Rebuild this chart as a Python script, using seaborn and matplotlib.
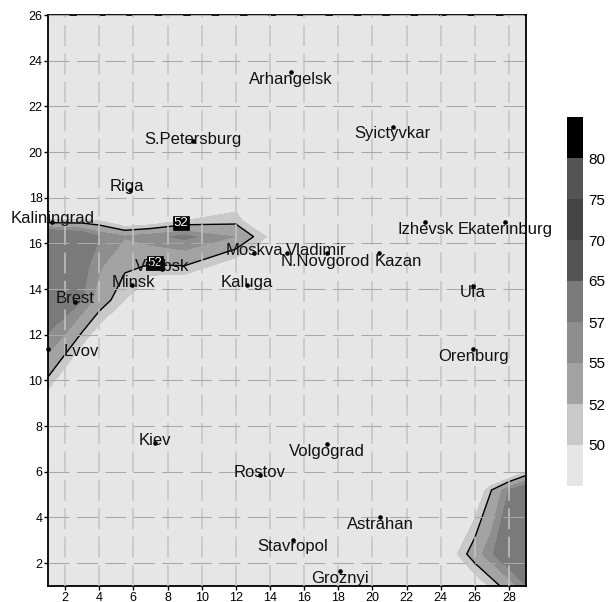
import matplotlib
matplotlib.use('Agg')
import matplotlib.pyplot as plt
from matplotlib.colors import ListedColormap, BoundaryNorm
import numpy as np
import pandas as pd
import seaborn as sns

# contour field, rows (nodes are not evenly spaced)
grid_x = [1, 3, 4, 5.5, 7, 9, 12, 13, 14.5, 16, 24, 25, 26, 27, 28, 29]
grid_y = [1, 2.4, 5.2, 6, 8, 10.74, 13.52, 15, 16.3, 17, 17.5, 26]
row_1 = [44, 44, 44, 44, 44, 44, 44, 44, 44, 44, 44, 44, 47.7, 50.6, 53.5, 57]
row_2 = [44, 44, 44, 44, 44, 44, 44, 44, 44, 44, 44, 50.1, 53.7, 56.7, 60, 63]
row_3 = [44, 44, 44, 44, 44, 44, 44, 44, 44, 44, 44, 44, 47, 52.1, 57.1, 60]
row_4 = [44, 44, 44, 44, 44, 44, 44, 44, 44, 44, 44, 44, 44, 44, 46, 50]
row_5 = [44.3, 44, 44, 44, 44, 44, 44, 44, 44, 44, 44, 44, 44, 44, 44, 44]
row_6 = [54.1, 47, 44, 44, 44, 44, 44, 44, 44, 44, 44, 44, 44, 44, 44, 44]
row_7 = [60, 57.1, 53.7, 50, 45, 44, 44, 44, 44, 44, 44, 44, 44, 44, 44, 44]
row_8 = [62, 58, 55.4, 52.5, 51.8, 51.9, 48, 47, 44, 44, 44, 44, 44, 44, 44, 44]
row_9 = [62, 60, 57.1, 55.2, 56.3, 57.6, 54.9, 52.1, 48.2, 45, 45, 45, 45, 45, 45, 45]
row_10 = [50.5, 50.5, 50, 47, 47.7, 50, 51.2, 48.1, 45, 45, 45, 45, 45, 45, 45, 45]
row_11 = [46, 46, 46, 46, 46, 47, 49.6, 46, 45, 45, 45, 45, 45, 45, 45, 45]
row_12 = [46, 46, 46, 46, 46, 46, 46, 46, 46, 46, 46, 46, 46, 46, 46, 46]

levels = [50, 52, 55, 57, 65, 70, 75, 80]
grays = ['#e6e6e6', '#c9c9c9', '#a3a3a3', '#8e8e8e', '#7a7a7a', '#555555', '#444444', '#555555', '#000000']

# cities: dot position
city = ['Arhangelsk', 'S.Petersburg', 'Syictyvkar', 'Riga', 'Kaliningrad', 'Moskva', 'Vladimir', 'N.Novgorod',
        'Kazan', 'Izhevsk', 'Ekaterinburg', 'Ufa', 'Orenburg', 'Vitebsk', 'Minsk', 'Kaluga', 'Brest', 'Lvov',
        'Kiev', 'Volgograd', 'Rostov', 'Astrahan', 'Stavropol', 'Groznyi']
lon = [15.24, 9.49, 21.2, 5.8, 1.23, 13.07, 15.0, 17.34, 20.39, 23.09, 27.77, 25.9, 25.9, 7.68, 5.92, 12.66,
       2.58, 1.0, 7.27, 17.34, 13.42, 20.45, 15.35, 18.1]
lat = [23.5, 20.48, 21.1, 18.34, 16.94, 15.58, 15.58, 15.58, 15.58, 16.94, 16.94, 14.13, 11.38, 14.88, 14.18,
       14.18, 13.43, 11.38, 7.26, 7.22, 5.86, 4.02, 3.01, 1.66]
# where the name sits
lab_x = [15.24, 9.49, 21.2, 5.63, 1.29, 13.1, 16.73, 17.23, 21.5, 23.15, 27.77, 25.9, 25.9, 7.68, 5.98, 12.66,
         2.58, 2.94, 7.27, 17.34, 13.42, 20.45, 15.35, 18.1]
lab_y = [23.24, 20.62, 20.88, 18.56, 17.16, 15.75, 15.75, 15.27, 15.27, 16.67, 16.67, 13.91, 11.12, 15.06,
         14.36, 14.36, 13.65, 11.34, 7.44, 6.96, 6.03, 3.76, 2.78, 1.4]

# labels on the 52 contour
cl_x = [8.79, 7.27]
cl_y = [16.94, 15.19]

sns.set_theme(style='ticks', rc={'xtick.labelsize': 9, 'ytick.labelsize': 9,
                                 'axes.linewidth': 1.3, 'axes.edgecolor': 'black',
                                 'xtick.color': 'black', 'ytick.color': 'black'})
plt.rcParams['font.family'] = ['Liberation Sans', 'DejaVu Sans']

W, H = 609, 602
fig = plt.figure(figsize=(W / 100, H / 100), dpi=100)
ax = fig.add_axes([48 / W, 16 / H, 478 / W, 571 / H])
cax = fig.add_axes([567 / W, 116 / H, 16 / W, 369 / H])

Z = np.array([row_1, row_2, row_3, row_4, row_5, row_6, row_7, row_8, row_9, row_10, row_11, row_12])
cmap = ListedColormap(grays)
norm = BoundaryNorm(levels, 9, extend='both')
filled = ax.contourf(grid_x, grid_y, Z, levels=levels, cmap=cmap, norm=norm, extend='both')
ax.contour(grid_x, grid_y, Z, levels=[52], colors='black', linewidths=1)

ax.set_xlim(1, 29)
ax.set_ylim(1, 26)
ax.set_xticks(range(2, 29, 2))
ax.set_yticks(range(2, 27, 2))
ax.tick_params(length=3, width=1, pad=1)
ax.xaxis.grid(True, color='#c4c4c4', lw=1.1, linestyle=(0, (13.7, 4.9)))
ax.yaxis.grid(True, color='#a8a8a8', lw=0.75, linestyle=(0, (20.1, 7.2)))
ax.set_axisbelow(False)
for ln in ax.get_xgridlines() + ax.get_ygridlines():
    ln.set_zorder(1.5)

cities = pd.DataFrame({'city': city, 'lon': lon, 'lat': lat})
sns.scatterplot(data=cities, x='lon', y='lat', ax=ax, color='black', s=11, linewidth=0, legend=False,
                clip_on=False, zorder=4)
ax.set_xlabel('')
ax.set_ylabel('')
for tx, ty in zip(cl_x, cl_y):
    ax.text(tx, ty, '52', ha='center', va='center_baseline', fontsize=9.5, color='white', zorder=4.5,
            bbox=dict(boxstyle='square,pad=0.08', fc='black', ec='black', lw=0.5))
for name, tx, ty in zip(city, lab_x, lab_y):
    ax.text(tx, ty, name, ha='center', va='center_baseline', fontsize=12, color='#111111', zorder=5, clip_on=False)

cb = fig.colorbar(filled, cax=cax, spacing='uniform', extendrect=True, extendfrac='auto', drawedges=False)
cb.set_ticks(levels)
cb.set_ticklabels([str(v) for v in levels])
cb.ax.tick_params(length=0, pad=4, labelsize=11)
cb.outline.set_visible(False)

fig.savefig('out.png', dpi=100)
